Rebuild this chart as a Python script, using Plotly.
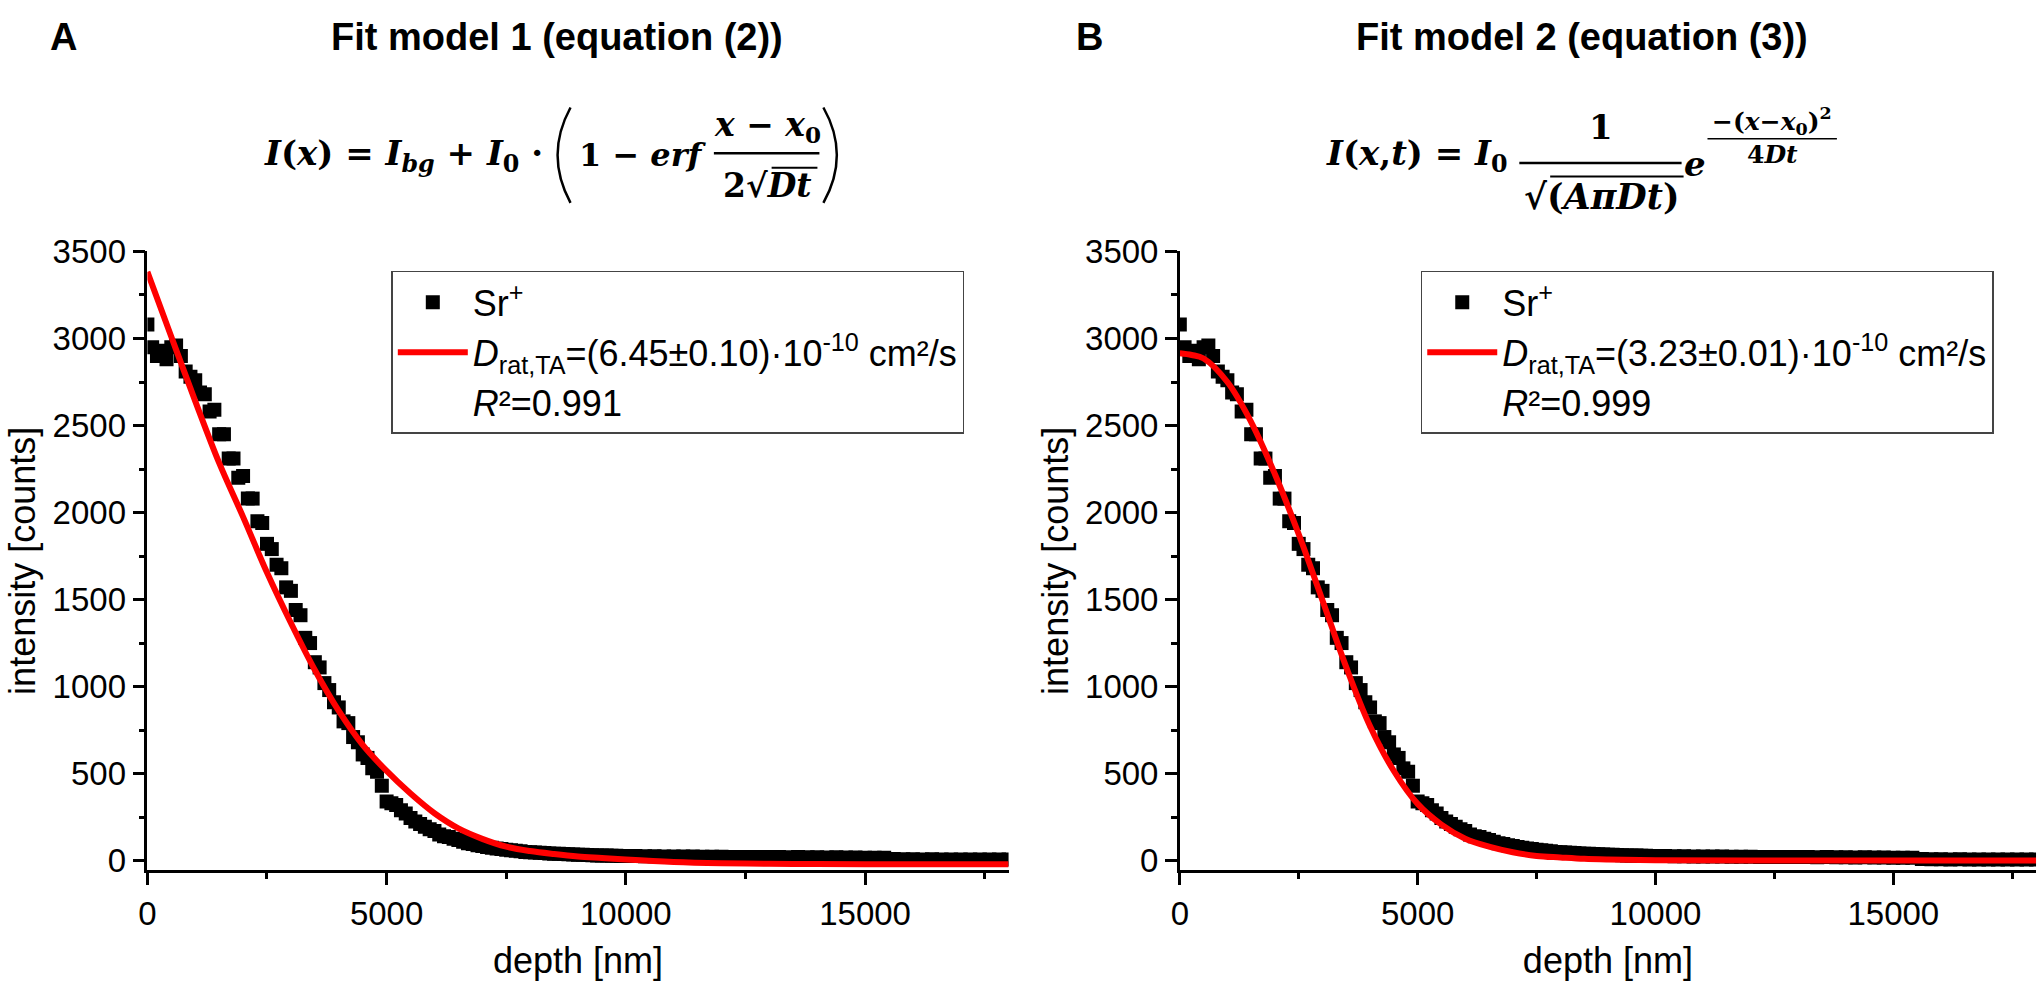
import plotly.graph_objects as go

W, H = 2042, 993
SANS = "Arial, Liberation Sans, sans-serif"
SERIF = "DejaVu Serif, serif"

# measured Sr+ depth profile (same data in both panels)
DEPTH_NM = list(range(0, 10000, 100)) + list(range(10000, 18001, 200))
SR_COUNTS = [
    3080, 2950, 2900, 2930, 2880, 2950, 2960, 2900, 2810, 2780,
    2760, 2690, 2680, 2580, 2590, 2450, 2450, 2310, 2310, 2200,
    2210, 2080, 2080, 1950, 1940, 1820, 1790, 1700, 1680, 1570,
    1550, 1440, 1410, 1280, 1250, 1140, 1110, 1020, 980, 910,
    880, 800, 790, 710, 680, 610, 590, 530, 510, 430,
    340, 330, 320, 290, 270, 245, 225, 210, 195, 180,
    170, 150, 140, 135, 125, 118, 108, 100, 95, 88,
    84, 78, 74, 70, 66, 62, 60, 56, 54, 50,
    48, 46, 45, 43, 41, 40, 39, 38, 36, 35,
    34, 33, 32, 31, 30, 30, 29, 28, 28, 27,
    27, 26, 25, 25, 24, 24, 23, 23, 22, 22,
    22, 21, 21, 20, 20, 21, 20, 19, 20, 19,
    19, 18, 19, 18, 18, 17, 17, 16, 9, 8,
    8, 7, 8, 7, 7, 7, 6, 7, 6, 6,
    6,
]

# fit model 1 (erf)
FIT1_DEPTH = [0, 500, 1000, 1500, 2000, 2500, 3000, 3500, 4000, 4500, 5000,
              5500, 6000, 6500, 7000, 7500, 8000, 8500, 9000, 9500, 10000,
              11000, 12000, 13000, 14000, 15000, 16000, 17000, 18000]
FIT1_COUNTS = [3383, 3010, 2640, 2285, 1975, 1655, 1365, 1095, 860, 665, 515,
               385, 272, 185, 125, 80, 55, 38, 24, 15, 6,
               -8, -15, -18, -20, -21, -21, -21, -21]

# fit model 2 (gauss)
FIT2_DEPTH = [0, 250, 500, 1000, 1500, 2000, 2500, 3000, 3500, 4000, 4500,
              5000, 5500, 6000, 6500, 7000, 7500, 8000, 8500, 9000, 10000,
              12000, 15000, 18000]
FIT2_COUNTS = [2915, 2905, 2885, 2750, 2520, 2220, 1875, 1495, 1110, 772, 515,
               326, 207, 126, 80, 48, 27, 18, 10, 6, 2,
               0, 0, 0]

LEGEND_SR = "Sr<sup>+</sup>"
FIT1_LABEL = "<i>D</i><sub>rat,TA</sub>=(6.45±0.10)·10<sup>-10</sup> cm²/s"
FIT2_LABEL = "<i>D</i><sub>rat,TA</sub>=(3.23±0.01)·10<sup>-10</sup> cm²/s"
R2_LABELS = ["<i>R</i>²=0.991", "<i>R</i>²=0.999"]


def px(x):
    return x / W


def py(y):
    return 1 - y / H


fig = go.Figure()

panels = [
    ("x", "y", "legend", FIT1_DEPTH, FIT1_COUNTS, FIT1_LABEL, R2_LABELS[0]),
    ("x2", "y2", "legend2", FIT2_DEPTH, FIT2_COUNTS, FIT2_LABEL, R2_LABELS[1]),
]
for xa, ya, leg, fx, fy, flabel, r2 in panels:
    fig.add_trace(go.Scatter(
        x=DEPTH_NM, y=SR_COUNTS, mode="markers", name=LEGEND_SR,
        marker=dict(symbol="square", size=14, color="black"),
        xaxis=xa, yaxis=ya, legend=leg,
    ))
    fig.add_trace(go.Scatter(
        x=fx, y=fy, mode="lines", name=flabel, line_shape="spline",
        line=dict(color="#ff0000", width=6),
        xaxis=xa, yaxis=ya, legend=leg,
    ))
    fig.add_trace(go.Scatter(
        x=[None], y=[None], mode="lines", name=r2,
        line=dict(color="rgba(0,0,0,0)", width=0),
        xaxis=xa, yaxis=ya, legend=leg,
    ))

tick_font = dict(family=SANS, size=33, color="black")
title_font = dict(family=SANS, size=36, color="black")


def x_axis(dom, anchor):
    return dict(
        domain=dom, anchor=anchor, range=[0, 18000], dtick=5000, tick0=0,
        tickformat="d",
        ticks="outside", ticklen=12, tickwidth=2.5, tickcolor="black",
        minor=dict(dtick=2500, ticks="outside", ticklen=6, tickwidth=2.5, tickcolor="black"),
        showline=True, linewidth=2.5, linecolor="black",
        showgrid=False, zeroline=False, tickfont=tick_font,
        title=dict(text="depth [nm]", font=title_font, standoff=18),
    )


def y_axis(anchor):
    return dict(
        domain=[py(876), py(240)], range=[-55, 3500], dtick=500, tick0=0,
        anchor=anchor, tickformat="d",
        ticks="outside", ticklen=12, tickwidth=2.5, tickcolor="black",
        minor=dict(dtick=250, ticks="outside", ticklen=6, tickwidth=2.5, tickcolor="black"),
        showline=True, linewidth=2.5, linecolor="black",
        showgrid=False, zeroline=False, tickfont=tick_font,
        title=dict(text="intensity [counts]", font=title_font, standoff=6),
    )


def x_mirror(over, anchor):
    return dict(
        overlaying=over, anchor=anchor, side="top", range=[0, 18000],
        dtick=5000, tick0=0, ticks="inside", ticklen=12, tickwidth=2.5,
        tickcolor="black", showticklabels=False,
        minor=dict(dtick=2500, ticks="inside", ticklen=6, tickwidth=2.5, tickcolor="black"),
        showline=True, linewidth=2.5, linecolor="black",
        showgrid=False, zeroline=False,
    )


def y_mirror(over, anchor):
    return dict(
        overlaying=over, anchor=anchor, side="right", range=[-55, 3500],
        dtick=500, tick0=0, ticks="inside", ticklen=12, tickwidth=2.5,
        tickcolor="black", showticklabels=False,
        minor=dict(dtick=250, ticks="inside", ticklen=6, tickwidth=2.5, tickcolor="black"),
        showline=True, linewidth=2.5, linecolor="black",
        showgrid=False, zeroline=False,
    )


def legend_box(x0):
    return dict(
        x=px(x0), y=py(260), xanchor="left", yanchor="top",
        bgcolor="white", bordercolor="#444444", borderwidth=1.5,
        font=dict(family=SANS, size=36, color="black"),
        tracegroupgap=0, itemwidth=70,
    )


fig.update_layout(
    width=W, height=H,
    margin=dict(l=0, r=0, t=0, b=0),
    paper_bgcolor="white", plot_bgcolor="white",
    xaxis=x_axis([px(139), px(1004)], "y"),
    yaxis=y_axis("x"),
    xaxis2=x_axis([px(1176), px(2036)], "y2"),
    yaxis2=y_axis("x2"),
    xaxis3=x_mirror("x", "y"),
    yaxis3=y_mirror("y", "x"),
    xaxis4=x_mirror("x2", "y2"),
    yaxis4=y_mirror("y2", "x2"),
    legend=legend_box(384),
    legend2=legend_box(1418),
    showlegend=True,
)


def note(text, x, y, size, family=SERIF, xanchor="center"):
    fig.add_annotation(
        text=text, x=px(x), y=py(y), xref="paper", yref="paper",
        showarrow=False, xanchor=xanchor, yanchor="middle",
        font=dict(size=size, family=family, color="black"),
    )


def rule(x0, x1, y, width=2.5):
    fig.add_shape(
        type="line", xref="paper", yref="paper",
        x0=px(x0), x1=px(x1), y0=py(y), y1=py(y),
        line=dict(color="black", width=width),
    )


def paren(x_tip, x_mid, y0, y1):
    fig.add_shape(
        type="path", xref="paper", yref="paper",
        path=f"M {px(x_tip)},{py(y0)} Q {px(x_mid)},{py((y0 + y1) / 2)} {px(x_tip)},{py(y1)}",
        line=dict(color="black", width=2.5),
    )


# panel letters and titles
note("<b>A</b>", 55, 20, 38, SANS)
note("<b>Fit model 1 (equation (2))</b>", 550, 20, 38, SANS)
note("<b>B</b>", 1085, 20, 38, SANS)
note("<b>Fit model 2 (equation (3))</b>", 1580, 20, 38, SANS)

# equation (2)
note("<b><i>I</i>(<i>x</i>) = <i>I</i><sub><i>bg</i></sub> + <i>I</i><sub>0</sub> ·</b>",
     254, 141, 34, xanchor="left")
paren(564, 538, 92, 190)
note("<b>1 − <i>erf</i></b>", 571, 141, 32, xanchor="left")
note("<b><i>x</i> − <i>x</i><sub>0</sub></b>", 762, 112, 33)
rule(708, 814, 139)
note("<b>2√<i>Dt</i></b>", 762, 172, 33)
rule(766, 812, 154, 2)
paren(818, 845, 92, 190)

# equation (3)
note("<b><i>I</i>(<i>x</i>,<i>t</i>) = <i>I</i><sub>0</sub></b>", 1321, 141, 34, xanchor="left")
note("<b>1</b>", 1599, 112, 34)
rule(1517, 1680, 149)
note("<b>√(<i>AπDt</i>)</b>", 1600, 183, 35)
rule(1548, 1682, 163, 2)
note("<b><i>e</i></b>", 1693, 150, 34)
note("<b>−(<i>x</i>−<i>x</i><sub>0</sub>)<sup>2</sup></b>", 1771, 106, 25)
rule(1706, 1836, 124, 1.5)
note("<b>4<i>Dt</i></b>", 1771, 140, 25)

fig.write_html(
    "out.html",
    config={"displayModeBar": False},
    post_script="document.body.style.margin = '0px';",
)
